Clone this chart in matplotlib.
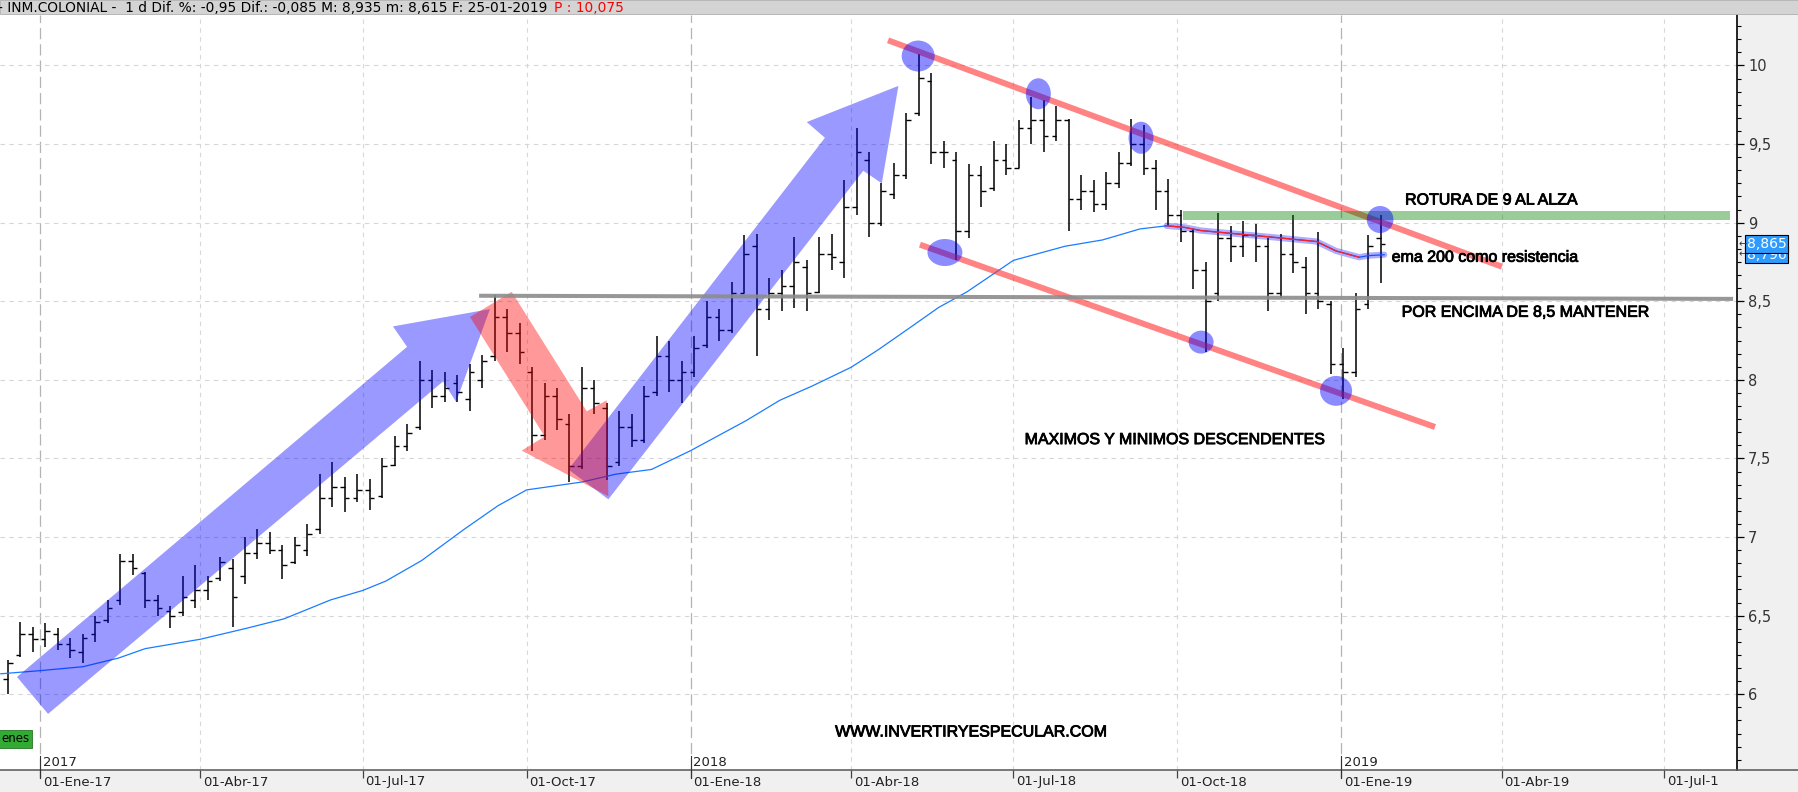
import datetime as dt
import matplotlib
matplotlib.use('Agg')
import matplotlib.pyplot as plt
import matplotlib.dates as mdates
import matplotlib.transforms as mtransforms
import matplotlib.patheffects as pe
from matplotlib.patches import Polygon, Ellipse, Rectangle
from matplotlib.ticker import MultipleLocator, FuncFormatter
import pandas as pd

# semanas (lunes) desde 12-12-2016 hasta 21-01-2019, barras semanales OHLC
semana_inicio = '2016-12-12'
aperturas = [6.10, 6.25, 6.38, 6.35, 6.38, 6.32, 6.27, 6.38, 6.47, 6.60,
             6.85, 6.77, 6.60, 6.53, 6.52, 6.60, 6.66, 6.74, 6.80, 6.75,
             6.90, 6.96, 6.92, 6.84, 6.92, 7.05, 7.25, 7.32, 7.25, 7.30,
             7.26, 7.46, 7.58, 7.70, 8.00, 7.90, 7.98, 7.88, 8.00, 8.15,
             8.40, 8.30, 8.05, 7.65, 7.90, 7.72, 7.45, 7.95, 7.82, 7.48,
             7.70, 7.62, 7.92, 8.15, 8.00, 8.05, 8.22, 8.40, 8.32, 8.55,
             8.85, 8.45, 8.55, 8.60, 8.72, 8.56, 8.80, 8.75, 9.10, 9.40,
             9.00, 9.18, 9.30, 9.70, 9.90, 9.45, 9.40, 8.95, 9.30, 9.22,
             9.40, 9.35, 9.60, 9.65, 9.55, 9.65, 9.15, 9.20, 9.12, 9.25,
             9.38, 9.50, 9.35, 9.20, 9.05, 8.95, 8.70, 8.55, 8.90, 8.85,
             8.92, 8.85, 8.55, 8.80, 8.72, 8.55, 8.48, 8.10, 8.05, 8.48,
             8.90]
maximos = [6.22, 6.46, 6.43, 6.45, 6.42, 6.36, 6.38, 6.50, 6.60, 6.89,
           6.89, 6.78, 6.63, 6.56, 6.75, 6.82, 6.75, 6.87, 6.86, 7.00,
           7.05, 7.03, 6.95, 7.00, 7.08, 7.40, 7.48, 7.38, 7.40, 7.37,
           7.50, 7.64, 7.72, 8.12, 8.06, 8.05, 8.03, 8.10, 8.16, 8.54,
           8.45, 8.36, 8.08, 7.98, 7.95, 7.78, 8.08, 8.00, 7.85, 7.80,
           7.78, 7.96, 8.28, 8.25, 8.12, 8.28, 8.50, 8.45, 8.62, 8.92,
           8.93, 8.65, 8.70, 8.91, 8.76, 8.91, 8.93, 9.27, 9.60, 9.45,
           9.25, 9.38, 9.70, 10.075, 9.95, 9.52, 9.45, 9.37, 9.36, 9.52,
           9.50, 9.65, 9.80, 9.78, 9.74, 9.66, 9.30, 9.27, 9.32, 9.45,
           9.66, 9.62, 9.40, 9.28, 9.08, 8.96, 8.75, 9.06, 8.98, 9.01,
           8.99, 8.90, 8.93, 9.05, 8.78, 8.94, 8.50, 8.20, 8.55, 8.92,
           9.05]
minimos = [6.00, 6.24, 6.27, 6.30, 6.28, 6.23, 6.20, 6.33, 6.45, 6.57,
           6.76, 6.55, 6.50, 6.42, 6.50, 6.55, 6.60, 6.72, 6.43, 6.70,
           6.86, 6.89, 6.73, 6.83, 6.88, 7.02, 7.19, 7.16, 7.22, 7.17,
           7.25, 7.45, 7.55, 7.68, 7.82, 7.86, 7.86, 7.80, 7.95, 8.12,
           8.18, 8.10, 7.55, 7.62, 7.68, 7.35, 7.43, 7.78, 7.36, 7.45,
           7.57, 7.60, 7.90, 7.92, 7.85, 8.02, 8.20, 8.25, 8.30, 8.55,
           8.15, 8.38, 8.44, 8.46, 8.44, 8.55, 8.70, 8.65, 9.05, 8.91,
           8.98, 9.15, 9.28, 9.68, 9.37, 9.35, 8.76, 8.90, 9.10, 9.20,
           9.30, 9.35, 9.50, 9.45, 9.52, 8.95, 9.08, 9.07, 9.08, 9.22,
           9.36, 9.30, 9.08, 8.98, 8.88, 8.58, 8.18, 8.50, 8.75, 8.78,
           8.75, 8.44, 8.52, 8.68, 8.42, 8.45, 8.04, 7.88, 8.02, 8.45,
           8.615]
cierres = [6.20, 6.38, 6.35, 6.40, 6.32, 6.28, 6.36, 6.46, 6.55, 6.85,
           6.80, 6.60, 6.55, 6.50, 6.62, 6.66, 6.72, 6.84, 6.62, 6.90,
           6.96, 6.92, 6.82, 6.95, 7.02, 7.25, 7.32, 7.25, 7.30, 7.25,
           7.45, 7.58, 7.66, 8.00, 7.90, 7.95, 7.92, 8.05, 8.12, 8.40,
           8.30, 8.18, 7.65, 7.90, 7.75, 7.45, 7.95, 7.85, 7.45, 7.70,
           7.62, 7.90, 8.15, 8.00, 8.05, 8.20, 8.40, 8.32, 8.55, 8.80,
           8.45, 8.55, 8.60, 8.75, 8.55, 8.80, 8.78, 9.10, 9.45, 9.00,
           9.20, 9.30, 9.65, 9.92, 9.45, 9.45, 8.95, 9.30, 9.20, 9.40,
           9.35, 9.60, 9.65, 9.55, 9.65, 9.15, 9.20, 9.12, 9.25, 9.38,
           9.50, 9.35, 9.20, 9.05, 8.95, 8.70, 8.50, 8.90, 8.85, 8.92,
           8.85, 8.55, 8.80, 8.75, 8.55, 8.50, 8.10, 8.05, 8.45, 8.85,
           8.865]

# media exponencial 200: dias desde 01-01-2017 y valor
ema_dias = [-22, 0, 24, 44, 59, 90, 116, 137, 163, 181, 194, 214, 238, 257, 273,
            304, 323, 343, 365, 396, 415, 433, 455, 470, 489, 504, 520, 546, 575,
            596, 617, 632, 642, 651, 670, 689, 716, 727, 740, 745, 754]
ema_vals = [6.13, 6.15, 6.175, 6.23, 6.29, 6.35, 6.42, 6.48, 6.60, 6.66, 6.72, 6.85,
            7.05, 7.20, 7.30, 7.35, 7.40, 7.43, 7.55, 7.74, 7.87, 7.96, 8.08, 8.19,
            8.34, 8.46, 8.56, 8.76, 8.85, 8.89, 8.96, 8.98, 8.97, 8.95, 8.93, 8.91,
            8.88, 8.82, 8.78, 8.79, 8.796]

ultimo = 8.865
ultimo_ema = 8.796

xt_fechas = ['2017-01-01', '2017-04-01', '2017-07-01', '2017-10-01', '2018-01-01',
             '2018-04-01', '2018-07-01', '2018-10-01', '2019-01-01', '2019-04-01',
             '2019-07-01']
xt_textos = ['01-Ene-17', '01-Abr-17', '01-Jul-17', '01-Oct-17', '01-Ene-18',
             '01-Abr-18', '01-Jul-18', '01-Oct-18', '01-Ene-19', '01-Abr-19',
             '01-Jul-1']
anios = ['2017', '2018', '2019']

W, H = 1799, 792
PR, PT, PB = 1737, 15, 770

fig = plt.figure(figsize=(W / 100, H / 100), dpi=100, facecolor='#f0f0f0')
ax = fig.add_axes([0, 1 - PB / H, PR / W, (PB - PT) / H])
ax.set_facecolor('white')

base = mdates.date2num(dt.datetime(2017, 1, 1))


def fx(d):
    return base + d


ax.set_xlim(fx(-22.44), fx(951.9))
ax.set_ylim(5.518, 10.321)

# rejilla
ax.yaxis.set_major_locator(MultipleLocator(0.5))
ax.yaxis.set_minor_locator(MultipleLocator(0.5 / 6))
ax.grid(axis='y', which='major', linestyle=(0, (4, 4)), color='#d6d6d6', lw=0.8)
for f in xt_fechas:
    x = mdates.datestr2num(f)
    if f.endswith('01-01'):
        ax.axvline(x, color='#b4b4b4', lw=0.9, linestyle=(0, (9, 4)), zorder=0)
    else:
        ax.axvline(x, color='#d8d8d8', lw=0.8, linestyle=(0, (4, 4)), zorder=0)

# barras OHLC semanales
semanas = pd.date_range(semana_inicio, periods=len(cierres), freq='7D')
xs = mdates.date2num(semanas.to_pydatetime()) + 2
ax.vlines(xs, minimos, maximos, color='black', lw=1.1, zorder=2)
ax.hlines(aperturas, xs - 2.6, xs, color='black', lw=1.0, zorder=2)
ax.hlines(cierres, xs, xs + 2.6, color='black', lw=1.0, zorder=2)

# EMA 200
ex = [fx(d) for d in ema_dias]
ax.plot(ex, ema_vals, color='#1a7cff', lw=0.9, zorder=3)
i0, i1 = ema_dias.index(642), ema_dias.index(740)
ax.plot(ex[i0 - 1:], ema_vals[i0 - 1:], color='#0000ff', alpha=0.32, lw=4.5,
        solid_capstyle='round', zorder=4)
ax.plot(ex[i0 - 1:i1 + 1], ema_vals[i0 - 1:i1 + 1], color='#ff2020', lw=0.9, zorder=5)

# flechas
azul = dict(facecolor='#0000ff', alpha=0.4, edgecolor='none', zorder=6)
rojo = dict(facecolor='#ff0000', alpha=0.4, edgecolor='none', zorder=6)
flecha1 = [(-12.9, 6.11), (205.9, 8.21), (198.0, 8.34), (252.4, 8.45),
           (233.4, 7.86), (226.1, 7.99), (4.5, 5.875)]
flecha2 = [(296.4, 7.43), (440.3, 9.54), (430.1, 9.64), (481.5, 9.87),
           (472.2, 9.25), (461.8, 9.33), (318.8, 7.24)]
flecha3 = [(241.2, 8.40), (283.1, 7.64), (270.2, 7.55), (318.8, 7.26),
           (317.9, 7.87), (306.7, 7.80), (264.6, 8.56)]
for pts, st in ((flecha1, azul), (flecha2, azul), (flecha3, rojo)):
    ax.add_patch(Polygon([(fx(d), v) for d, v in pts], closed=True, **st))

# canal bajista
ax.plot([fx(475.7), fx(820.0)], [10.16, 8.72], color='#ff3030', alpha=0.6, lw=4.3,
        solid_capstyle='butt', zorder=7)
ax.plot([fx(493.6), fx(782.5)], [8.86, 7.70], color='#ff3030', alpha=0.6, lw=4.3,
        solid_capstyle='butt', zorder=7)

# soporte 8,5 y resistencia 9
ax.plot([fx(246.3), fx(949.7)], [8.535, 8.515], color='#8c8c8c', alpha=0.9, lw=2.9,
        solid_capstyle='butt', zorder=7)
ax.add_patch(Rectangle((fx(641.2), 9.02), 306.8, 0.055, facecolor='#008000',
                       alpha=0.4, edgecolor='none', zorder=7))

# circulos en maximos y minimos
circulos = [(492.6, 10.06, 18.5, 0.197), (560.0, 9.82, 14.0, 0.197),
            (617.6, 9.54, 14.0, 0.204), (507.6, 8.81, 19.6, 0.172),
            (651.3, 8.24, 14.0, 0.146), (727.0, 7.93, 18.0, 0.19),
            (751.7, 9.02, 15.0, 0.172)]
for d, v, w, h in circulos:
    ax.add_patch(Ellipse((fx(d), v), w, h, facecolor='#0000ff', alpha=0.45,
                         edgecolor='none', zorder=8))

negrita = [pe.withStroke(linewidth=0.6, foreground='black')]
txt = dict(family=['Liberation Sans', 'DejaVu Sans'], fontsize=11.5, color='black',
           va='center', ha='left', zorder=9, path_effects=negrita)
ax.text(fx(765.7), 9.144, 'ROTURA DE 9 AL ALZA', **txt)
ax.text(fx(758.2), 8.78, 'ema 200 como resistencia', **txt)
ax.text(fx(763.8), 8.43, 'POR ENCIMA DE 8,5 MANTENER', **txt)
ax.text(fx(552.3), 7.62, 'MAXIMOS Y MINIMOS DESCENDENTES', **txt)
ax.text(fx(446.0), 5.76, 'WWW.INVERTIRYESPECULAR.COM', **txt)

# ejes
for s in ('left', 'top'):
    ax.spines[s].set_visible(False)
ax.spines['right'].set_color('black')
ax.spines['right'].set_linewidth(1.2)
ax.spines['bottom'].set_color('#555555')
ax.spines['bottom'].set_linewidth(1.1)
ax.yaxis.tick_right()
ax.yaxis.set_major_formatter(FuncFormatter(lambda v, p: ('%g' % v).replace('.', ',')))
ax.tick_params(axis='y', which='major', length=5, width=0.9, pad=3, labelsize=10.5,
               labelcolor='#333333')
ax.tick_params(axis='y', which='minor', length=3, width=0.8)
ax.set_xticks([mdates.datestr2num(f) for f in xt_fechas])
ax.set_xticklabels([])
ax.tick_params(axis='x', length=6, width=0.9, color='#444444')

bx = mtransforms.blended_transform_factory(ax.transData, ax.transAxes)
for f, t in zip(xt_fechas, xt_textos):
    ax.text(mdates.datestr2num(f) + 1.5, -12 / (PB - PT), t, transform=bx, ha='left',
            va='center', fontsize=9.5, color='#222222', clip_on=False)
for a in anios:
    x = mdates.datestr2num(a + '-01-01')
    ax.plot([x, x], [-8 / (PB - PT), 14 / (PB - PT)], transform=bx, color='#333333',
            lw=0.8, clip_on=False, zorder=10)
    ax.text(x + 1.5, 7 / (PB - PT), a, transform=bx, ha='left', va='center',
            fontsize=9.5, color='#222222')

fig.add_artist(plt.Line2D([PR / W, 1], [1 - PB / H, 1 - PB / H], color='#555555', lw=1.1))

# cabecera
fig.add_artist(Rectangle((0, 1 - 14 / H), 1, 14 / H, transform=fig.transFigure,
                         facecolor='#d4d4d4', edgecolor='#b0b0b0', lw=0.6))
fig.text(-2 / W, 1 - 7.5 / H,
         '- INM.COLONIAL -  1 d Dif. %: -0,95 Dif.: -0,085 M: 8,935 m: 8,615 F: 25-01-2019',
         va='center', ha='left', fontsize=9.9, color='black')
fig.text(554 / W, 1 - 7.5 / H, 'P : 10,075', va='center', ha='left', fontsize=9.9,
         color='#ff0000')

# etiquetas de ultimo precio
by = mtransforms.blended_transform_factory(fig.transFigure, ax.transData)
for val, yv in ((ultimo_ema, ultimo_ema), (ultimo, ultimo)):
    fig.text(1747 / W, yv, ('%.3f' % val).replace('.', ','), transform=by, ha='left',
             va='center', fontsize=10, color='white',
             bbox=dict(boxstyle='square,pad=0.12', facecolor='#2f9bff',
                       edgecolor='black', lw=0.8))
    fig.text(1739 / W, yv, '\u2190', transform=by, ha='left', va='center',
             fontsize=7, color='#333333')

# etiqueta verde abajo izquierda
fig.text(1 / W, 1 - 739 / H, 'enes', ha='left', va='center', fontsize=8.5,
         bbox=dict(boxstyle='square,pad=0.25', facecolor='#33aa33', edgecolor='#227722', lw=0.6))

fig.savefig('out.png', dpi=100, facecolor=fig.get_facecolor())
